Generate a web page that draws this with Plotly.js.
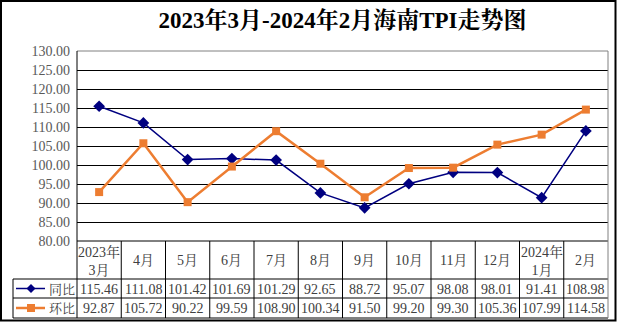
<!DOCTYPE html>
<html>
<head>
<meta charset="utf-8">
<script src="https://cdn.plot.ly/plotly-3.0.1.min.js"></script>
<style>html,body{margin:0;padding:0;background:#fff;}#chart{width:617px;height:322px;}</style>
</head>
<body>
<div id="chart"></div>
<script>
// ---- data ----
const categories = ['2023年3月','4月','5月','6月','7月','8月','9月','10月','11月','12月','2024年1月','2月'];
const tickLabels = ['2023年<br>3月','4月','5月','6月','7月','8月','9月','10月','11月','12月','2024年<br>1月','2月'];
const tongbi = [115.46,111.08,101.42,101.69,101.29,92.65,88.72,95.07,98.08,98.01,91.41,108.98];
const huanbi = [92.87,105.72,90.22,99.59,108.90,100.34,91.50,99.20,99.30,105.36,107.99,114.58];
const seriesNames = ['同比','环比'];
const titleText = '2023年3月-2024年2月海南TPI走势图';

// ---- layout helpers (pixel -> paper) ----
const L = 77, R = 608, T = 51, B = 241;
const px = v => (v - L) / (R - L);
const py = v => (B - v) / (B - T);
const SERIF = 'Liberation Serif, "Noto Serif CJK SC", "Noto Sans CJK SC", serif';
const navy = '#000080', orange = '#ED7D31';

const traces = [
  {x: categories, y: tongbi, name: seriesNames[0], type: 'scatter', mode: 'lines+markers',
   line: {color: navy, width: 1.5}, marker: {symbol: 'diamond', size: 9, color: navy}},
  {x: categories, y: huanbi, name: seriesNames[1], type: 'scatter', mode: 'lines+markers',
   line: {color: orange, width: 2.5}, marker: {symbol: 'square', size: 8, color: orange}}
];

const shapes = [];
const ann = [];
const line = (x0,y0,x1,y1,color,width) => shapes.push({type:'line', xref:'paper', yref:'paper',
  x0:px(x0), y0:py(y0), x1:px(x1), y1:py(y1), line:{color:color, width:width}});

// table rows
const rowTop = 241, rowCat = 279, rowA = 298, rowB = 318, legL = 13;
line(L, rowTop, R, rowTop, '#000', 1);
line(legL, rowCat, R, rowCat, '#000', 1);
line(legL, rowA, R, rowA, '#000', 1);
line(legL, rowB, R, rowB, '#000', 1);
line(legL, rowCat, legL, rowB, '#000', 1);
const colW = (R - L) / categories.length;
for (let k = 0; k < categories.length; k++) line(L + k*colW, rowTop, L + k*colW, rowB, '#000', 1);
// plot frame
line(L, T, R, T, '#808080', 1);
line(R, T, R, rowB, '#808080', 1);
line(L, T, L, rowTop, '#000', 1);
// outer frame
shapes.push({type:'rect', xref:'paper', yref:'paper', x0:px(1), y0:py(1), x1:px(615.5), y1:py(320.5),
  line:{color:'#000', width:2}});

const cellFont = {family:SERIF, size:14, color:'#404040'};
// category row and value rows
categories.forEach((c, i) => {
  ann.push({xref:'x', yref:'paper', x:c, y:py((rowTop+rowCat)/2 + 0.5), text:tickLabels[i], showarrow:false,
    xanchor:'center', yanchor:'middle', font:cellFont, align:'center'});
  ann.push({xref:'x', yref:'paper', x:c, y:py((rowCat+rowA)/2 + 0.5), text:tongbi[i].toFixed(2), showarrow:false,
    xanchor:'center', yanchor:'middle', font:cellFont});
  ann.push({xref:'x', yref:'paper', x:c, y:py((rowA+rowB)/2 + 0.5), text:huanbi[i].toFixed(2), showarrow:false,
    xanchor:'center', yanchor:'middle', font:cellFont});
});

// legend keys inside table
const keyY = [(rowCat+rowA)/2, (rowA+rowB)/2];
line(16, keyY[0], 45, keyY[0], navy, 1.5);
line(16, keyY[1], 45, keyY[1], orange, 2.5);
const d = 4.5, cx = 31;
shapes.push({type:'path', xref:'paper', yref:'paper', fillcolor:navy, line:{color:navy, width:0},
  path:`M ${px(cx-d)} ${py(keyY[0])} L ${px(cx)} ${py(keyY[0]-d)} L ${px(cx+d)} ${py(keyY[0])} L ${px(cx)} ${py(keyY[0]+d)} Z`});
shapes.push({type:'rect', xref:'paper', yref:'paper', fillcolor:orange, line:{color:orange, width:0},
  x0:px(cx-4), x1:px(cx+4), y0:py(keyY[1]-4), y1:py(keyY[1]+4)});
seriesNames.forEach((n, i) => ann.push({xref:'paper', yref:'paper', x:px(62), y:py(keyY[i]+0.5), text:n,
  showarrow:false, xanchor:'center', yanchor:'middle', font:{family:SERIF, size:13, color:'#404040'}}));

const layout = {
  width: 617, height: 322,
  margin: {l: L, r: 617 - R, t: T, b: 322 - B, pad: 0},
  paper_bgcolor: '#fff', plot_bgcolor: '#fff',
  showlegend: false,
  title: {text: titleText, x: 0.5, xref: 'paper', xanchor: 'center', y: 1 - 20/322, yref: 'container', yanchor: 'middle',
    font: {family: SERIF, size: 23, color: '#000', weight: 'bold'}},
  xaxis: {type: 'category', range: [-0.5, categories.length - 0.5], showticklabels: false, showgrid: false,
    zeroline: false, showline: false, ticks: ''},
  yaxis: {range: [80, 130], dtick: 5, tick0: 80, tickformat: '.2f', showgrid: true, gridcolor: '#000', gridwidth: 1,
    zeroline: false, showline: false, ticks: '', ticklabelstandoff: 6,
    tickfont: {family: SERIF, size: 14, color: '#595959'}},
  shapes: shapes,
  annotations: ann
};

Plotly.newPlot('chart', traces, layout, {displayModeBar: false, staticPlot: true});
</script>
</body>
</html>
